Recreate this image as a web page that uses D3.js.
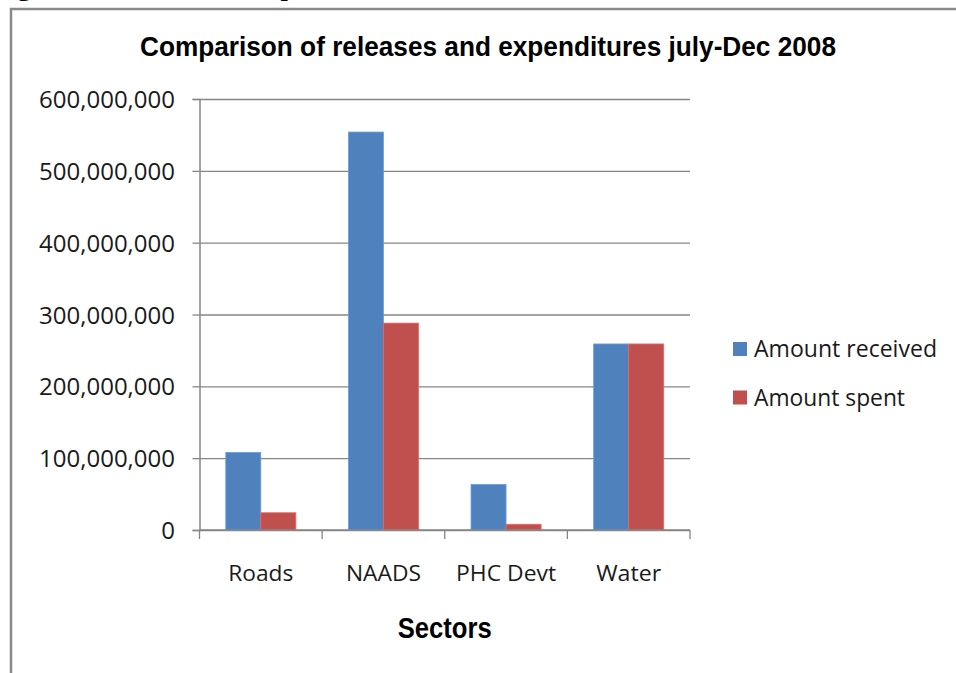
<!DOCTYPE html>
<html>
<head>
<meta charset="utf-8">
<script src="https://cdn.jsdelivr.net/npm/d3@7"></script>
<style>
  html, body { margin: 0; padding: 0; background: #fff; }
  svg { display: block; }
</style>
</head>
<body>
<svg id="chart" width="956" height="673"></svg>
<script>
// Sector budget data, July–December 2008
const categories = ["Roads", "NAADS", "PHC Devt", "Water"];
const seriesNames = ["Amount received", "Amount spent"];
const amountReceived = [108000000, 554000000, 63500000, 259000000];
const amountSpent = [24000000, 288000000, 8000000, 259000000];
const yTicks = [0, 100000000, 200000000, 300000000, 400000000, 500000000, 600000000];
const seriesColors = ["#4F81BD", "#C0504D"];

const svg = d3.select("#chart");

// Outer frame (partly cut off by the page edges)
svg.append("rect")
  .attr("x", 11).attr("y", 9)
  .attr("width", 1000).attr("height", 700)
  .attr("fill", "#fff")
  .attr("stroke", "#8a8a8a")
  .attr("stroke-width", 2.5);

// Document caption above the frame, mostly outside the page
svg.append("text")
  .attr("x", -6).attr("y", -4)
  .attr("font-family", "Liberation Serif, serif")
  .attr("font-weight", "bold")
  .attr("font-size", 22)
  .attr("textLength", 628)
  .attr("lengthAdjust", "spacingAndGlyphs")
  .attr("fill", "#000")
  .text("Figure 2: Releases and expenditures in standard sectors");

const plot = { left: 199.5, right: 690, top: 99, bottom: 530 };

const x = d3.scaleBand()
  .domain(categories)
  .range([plot.left, plot.right])
  .paddingInner(0).paddingOuter(0);

const xInner = d3.scaleBand()
  .domain(seriesNames)
  .range([0, x.bandwidth()])
  .paddingInner(0).paddingOuter(0.75);

const y = d3.scaleLinear()
  .domain([0, 600000000])
  .range([plot.bottom, plot.top]);

// Horizontal gridlines
svg.append("g")
  .attr("transform", `translate(${plot.left},0)`)
  .call(d3.axisLeft(y).tickValues(yTicks).tickSize(-(plot.right - plot.left)).tickFormat(""))
  .call(g => g.select(".domain").remove())
  .call(g => g.selectAll("line").attr("stroke", "#868686").attr("stroke-width", 1.3));

// Bars
const series = [amountReceived, amountSpent];
const rows = [];
categories.forEach((c, i) => {
  seriesNames.forEach((s, j) => rows.push({ cat: c, ser: s, j, value: series[j][i] }));
});

svg.append("g").selectAll("rect")
  .data(rows)
  .join("rect")
  .attr("x", d => x(d.cat) + xInner(d.ser))
  .attr("y", d => y(d.value))
  .attr("width", xInner.bandwidth())
  .attr("height", d => y(0) - y(d.value))
  .attr("fill", d => seriesColors[d.j])
  .attr("stroke", d => d3.color(seriesColors[d.j]).brighter(0.6))
  .attr("stroke-width", 0.8);

// Y axis with labels
svg.append("g")
  .attr("transform", `translate(${plot.left},0)`)
  .call(d3.axisLeft(y).tickValues(yTicks).tickSize(7).tickPadding(17.5).tickFormat(d3.format(",")))
  .call(g => g.select(".domain").attr("stroke", "#868686").attr("stroke-width", 1.5))
  .call(g => g.selectAll("line").attr("stroke", "#868686").attr("stroke-width", 1.3))
  .call(g => g.selectAll("text")
    .attr("font-family", "Open Sans, sans-serif")
    .attr("font-size", 24)
    .attr("fill", "#1a1a1a")
    .attr("dy", "0.36em"));

// X axis line and category boundary ticks
svg.append("line")
  .attr("x1", plot.left).attr("x2", plot.right)
  .attr("y1", y(0)).attr("y2", y(0))
  .attr("stroke", "#868686").attr("stroke-width", 1.5);

const boundaries = categories.map(c => x(c)).concat([x.range()[1]]);
svg.append("g").selectAll("line")
  .data(boundaries)
  .join("line")
  .attr("x1", d => d).attr("x2", d => d)
  .attr("y1", y(0)).attr("y2", y(0) + 9)
  .attr("stroke", "#868686").attr("stroke-width", 1.3);

// Category labels
const catWidths = { "Roads": 65, "NAADS": 75, "PHC Devt": 100, "Water": 65 };
svg.append("g").selectAll("text")
  .data(categories)
  .join("text")
  .attr("x", d => x(d) + x.bandwidth() / 2)
  .attr("y", 581)
  .attr("text-anchor", "middle")
  .attr("font-family", "Open Sans, sans-serif")
  .attr("font-size", 22)
  .attr("textLength", d => catWidths[d])
  .attr("lengthAdjust", "spacingAndGlyphs")
  .attr("fill", "#1a1a1a")
  .text(d => d);

// Chart title
svg.append("text")
  .attr("x", 488).attr("y", 56)
  .attr("text-anchor", "middle")
  .attr("font-family", "Liberation Sans, Arial, sans-serif")
  .attr("font-weight", "bold")
  .attr("font-size", 28)
  .attr("textLength", 696)
  .attr("lengthAdjust", "spacingAndGlyphs")
  .attr("fill", "#000")
  .text("Comparison of releases  and expenditures july-Dec 2008");

// X axis title
svg.append("text")
  .attr("x", (plot.left + plot.right) / 2).attr("y", 638)
  .attr("text-anchor", "middle")
  .attr("font-family", "Liberation Sans, Arial, sans-serif")
  .attr("font-weight", "bold")
  .attr("font-size", 29)
  .attr("textLength", 94)
  .attr("lengthAdjust", "spacingAndGlyphs")
  .attr("fill", "#000")
  .text("Sectors");

// Legend
const legendWidths = [183, 151];
const legend = svg.append("g").selectAll("g")
  .data(seriesNames)
  .join("g")
  .attr("transform", (d, i) => `translate(733,${342 + i * 48.5})`);

legend.append("rect")
  .attr("width", 14).attr("height", 14)
  .attr("fill", (d, i) => seriesColors[i]);

legend.append("text")
  .attr("x", 21).attr("y", 15)
  .attr("font-family", "Open Sans, sans-serif")
  .attr("font-size", 23)
  .attr("textLength", (d, i) => legendWidths[i])
  .attr("lengthAdjust", "spacingAndGlyphs")
  .attr("fill", "#1a1a1a")
  .text(d => d);
</script>
</body>
</html>
